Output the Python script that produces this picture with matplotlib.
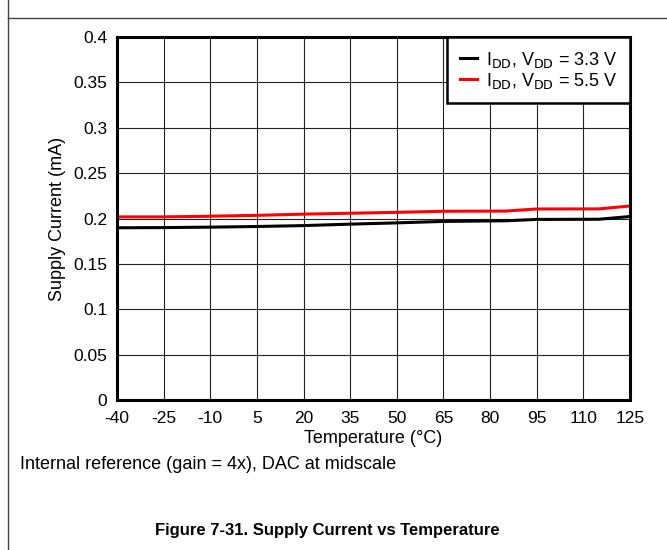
import matplotlib
matplotlib.use("Agg")
import matplotlib.pyplot as plt
from matplotlib.lines import Line2D

plt.rcParams['font.family'] = ['Liberation Sans', 'DejaVu Sans']
plt.rcParams['axes.unicode_minus'] = False

# temperature (degC) and supply current (mA)
temps = [-40, -25, -10, 5, 20, 35, 50, 65, 85, 95, 115, 125]
idd_33 = [0.1898, 0.1900, 0.1905, 0.1912, 0.1922, 0.1938, 0.1952, 0.1968,
          0.1975, 0.1990, 0.1992, 0.2022]
idd_55 = [0.2018, 0.2018, 0.2025, 0.2035, 0.2048, 0.2058, 0.2068, 0.2080,
          0.2082, 0.2105, 0.2106, 0.2138]

x_ticks = [-40, -25, -10, 5, 20, 35, 50, 65, 80, 95, 110, 125]
y_ticks = [0, 0.05, 0.1, 0.15, 0.2, 0.25, 0.3, 0.35, 0.4]
y_labels = ['0', '0.05', '0.1', '0.15', '0.2', '0.25', '0.3', '0.35', '0.4']

fig = plt.figure(figsize=(6.67, 5.5), dpi=100)
ax = fig.add_axes([0.1754, 0.2727, 0.7691, 0.66])

ax.plot(temps, idd_33, color='black', lw=2.2, label=r'I$_{\rm DD}$, V$_{\rm DD}$ = 3.3 V')
ax.plot(temps, idd_55, color='#ff0000', lw=2.2, label=r'I$_{\rm DD}$, V$_{\rm DD}$ = 5.5 V')

ax.set_xlim(-40, 125)
ax.set_ylim(0, 0.4)
ax.set_xticks(x_ticks)
ax.set_xticklabels([str(t) for t in x_ticks])
ax.set_yticks(y_ticks)
ax.set_yticklabels(y_labels)
ax.tick_params(length=0, labelsize=12.5)
ax.tick_params(axis='x', pad=8)
ax.tick_params(axis='y', pad=7)
ax.grid(True, color='#222222', lw=0.8)
ax.set_axisbelow(True)
for s in ax.spines.values():
    s.set_linewidth(2.2)

ax.set_xlabel('Temperature (°C)', fontsize=13, labelpad=3)
ax.set_ylabel('Supply Current (mA)', fontsize=13, labelpad=5)

leg = ax.legend(loc='upper right', borderaxespad=0, fancybox=False, fontsize=13,
                handlelength=0.95, handletextpad=0.5, labelspacing=0.05,
                borderpad=0.7, framealpha=1)
leg.get_frame().set_edgecolor('black')
leg.get_frame().set_linewidth(1.8)

fig.text(0.03, 0.155, 'Internal reference (gain = 4x), DAC at midscale', fontsize=13,
         va='center', ha='left')
fig.text(0.49, 0.035, 'Figure 7-31. Supply Current vs Temperature', fontsize=12,
         fontweight='bold', va='center', ha='center')

# page frame lines
fig.add_artist(Line2D([0.012, 0.012], [0, 1], color='#444444', lw=1.0))
fig.add_artist(Line2D([0.012, 1], [0.967, 0.967], color='#444444', lw=1.0))

fig.savefig('out.png', dpi=100)
